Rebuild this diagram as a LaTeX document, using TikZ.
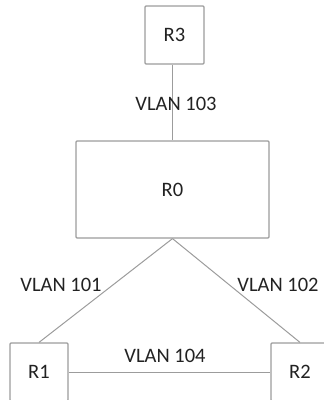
\documentclass[tikz,border=0pt]{standalone}
\usepackage{fontspec}
\setmainfont{Carlito}
\begin{document}
\begin{tikzpicture}[x=1pt,y=-1pt,
  box/.style={draw=boxgray,line width=1.2pt,rounded corners=1pt,fill=white,inner sep=0pt,font=\fontsize{20.5}{24}\selectfont,text=txtgray},
  lbl/.style={font=\fontsize{20.5}{24}\selectfont,text=txtgray,inner sep=0pt},
  link/.style={draw=boxgray,line width=1pt}]
\definecolor{boxgray}{HTML}{9C9C9C}
\definecolor{txtgray}{HTML}{222222}
\useasboundingbox (0,0) rectangle (324,400);
\clip (0,0) rectangle (324,400);
\node[box,minimum width=59pt,minimum height=58pt] (r3) at (174.5,35) {R3};
\node[box,minimum width=193pt,minimum height=97pt] (r0) at (172.5,189.5) {R0};
\node[box,minimum width=58pt,minimum height=58pt] (r1) at (39,372) {R1};
\node[box,minimum width=58pt,minimum height=58pt] (r2) at (300,372) {R2};
\draw[link] (r3.south -| r0.north) -- (r0.north);
\draw[link] (r0.south) -- (r1.north);
\draw[link] (r0.south) -- (r2.north);
\draw[link] (r1.east) -- (r2.west);
\node[lbl] (l103) at (176,104) {VLAN 103};
\node[lbl] (l101) at (61,285) {VLAN 101};
\node[lbl] (l102) at (278,285) {VLAN 102};
\node[lbl] (l104) at (165,356) {VLAN 104};
\end{tikzpicture}
\end{document}
